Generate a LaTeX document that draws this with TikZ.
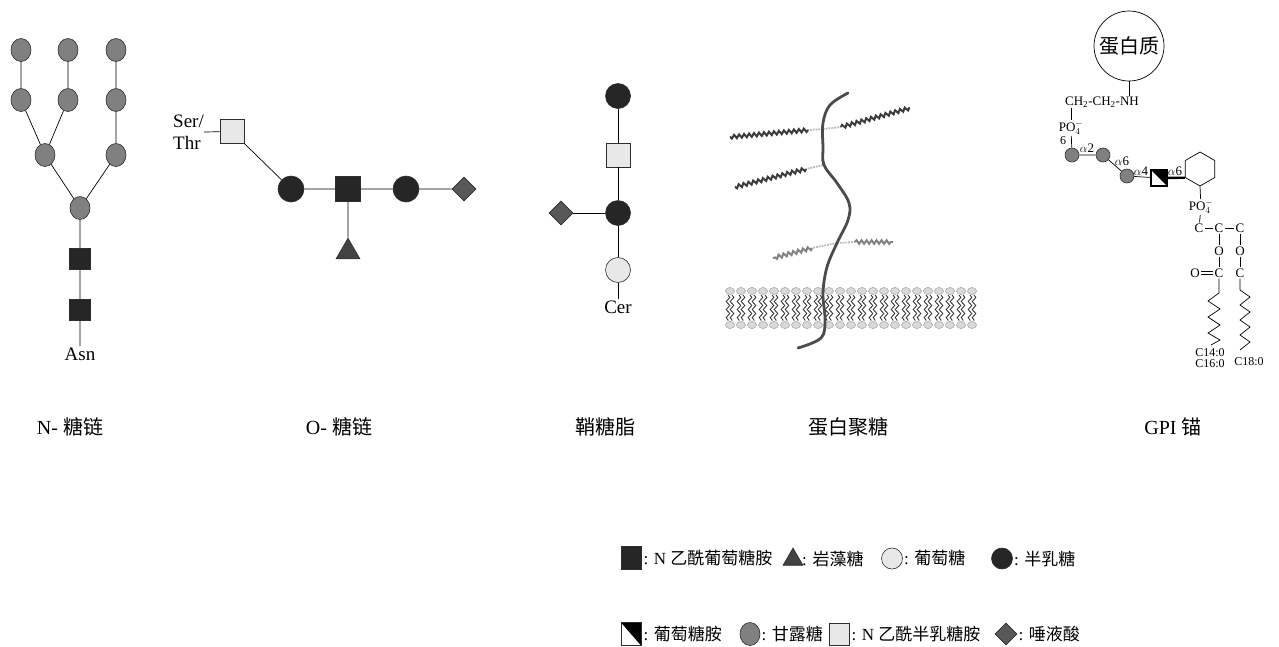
\documentclass[tikz,border=0pt]{standalone}
\usepackage{fontspec}
\setmainfont{Liberation Serif}
\newfontfamily\cjk{Noto Sans CJK SC}
\usepackage{tikz}
\usetikzlibrary{shapes.geometric, positioning, calc, decorations.pathmorphing}
\usepackage{xcolor}
\definecolor{hexnac}{RGB}{38, 38, 38}
\definecolor{mangray}{RGB}{128, 128, 128}
\definecolor{lightsug}{RGB}{232, 232, 232}
\definecolor{fucgray}{RGB}{66, 66, 66}
\definecolor{siagray}{RGB}{88, 88, 88}
\definecolor{edgegray}{RGB}{45, 45, 45}
\definecolor{coregray}{RGB}{75, 75, 75}
\definecolor{gagdark}{RGB}{60, 60, 60}
\definecolor{gaglight}{RGB}{130, 130, 130}
\newcommand{\zh}[1]{{\cjk #1}}

\begin{document}
\begin{tikzpicture}[
    x=1pt, y=-1pt,
    sugar/.style={draw=edgegray, line width=0.6pt, inner sep=0pt},
    glcnac/.style={sugar, rectangle, fill=hexnac, minimum size=24pt},
    galnac/.style={sugar, rectangle, fill=lightsug, minimum size=24pt},
    gal/.style={sugar, circle, fill=hexnac, minimum size=25pt},
    glc/.style={sugar, circle, fill=lightsug, minimum size=25pt},
    man/.style={sugar, ellipse, fill=mangray, minimum width=20pt, minimum height=23pt},
    sia/.style={sugar, diamond, fill=siagray, minimum size=24pt},
    fuc/.style={sugar, regular polygon, regular polygon sides=3, fill=fucgray, minimum size=27.7pt},
    glcn/.style={sugar, rectangle, fill=white,
        path picture={\fill[black] (path picture bounding box.north west) -- (path picture bounding box.north east) -- (path picture bounding box.south east) -- cycle;}},
    link/.style={draw=black, line width=0.7pt},
    tag/.style={font=\fontsize{19}{22}\selectfont, inner sep=1pt},
    atom/.style={font=\fontsize{13}{14}\selectfont, inner sep=1pt},
    caption/.style={font=\fontsize{20}{24}\selectfont},
    key/.style={font=\fontsize{17}{20}\selectfont, inner sep=0pt},
    head/.style={ellipse, draw=gray!75, fill=gray!30, line width=0.5pt, minimum width=9pt, minimum height=7pt, inner sep=0pt},
    tail/.style={draw=black!85, line width=0.8pt, decorate, decoration={snake, segment length=8pt, amplitude=1.8pt}},
    gag/.style={draw=gagdark, line width=2pt, decorate, decoration={snake, segment length=5pt, amplitude=1.8pt}},
    beads/.style={draw=gray!55, line width=1.8pt, densely dotted}
]
    \useasboundingbox (0,0) rectangle (1279,646);

    % N-糖链
    \node[man] (n1) at (21,50) {};
    \node[man] (n2) at (68,50) {};
    \node[man] (n3) at (116,50) {};
    \node[man] (n4) at (21,100) {};
    \node[man] (n5) at (68,100) {};
    \node[man] (n6) at (116,100) {};
    \node[man] (n7) at (45,155) {};
    \node[man] (n8) at (116,155) {};
    \node[man] (n9) at (80,208) {};
    \node[glcnac, minimum size=21pt] (n10) at (80,259) {};
    \node[glcnac, minimum size=21pt] (n11) at (80,310) {};
    \node[tag] (asn) at (80,354) {Asn};
    \path[link] (n1) -- (n4) (n2) -- (n5) (n3) -- (n6) -- (n8) -- (n9)
        (n4) -- (n7) -- (n9) (n5) -- (n7) (n9) -- (n10) -- (n11) -- (asn);

    % O-糖链
    \node[galnac] (o1) at (232,131.5) {};
    \node[tag, align=left, anchor=east, inner sep=0pt] (ser) at (204,132) {Ser/\\Thr};
    \node[gal, minimum size=26pt] (o2) at (291,189) {};
    \node[glcnac, minimum size=25pt] (o3) at (348,189) {};
    \node[gal, minimum size=26pt] (o4) at (406,189) {};
    \node[sia] (o5) at (464,189) {};
    \node[fuc] (o6) at (348,252) {};
    \path[link] (ser.east) -- (o1) -- (o2) -- (o3) -- (o4) -- (o5) (o3) -- (o6);

    % 鞘糖脂
    \node[gal] (g1) at (618,96) {};
    \node[galnac] (g2) at (618,155) {};
    \node[gal] (g3) at (618,213) {};
    \node[sia] (g4) at (561,213) {};
    \node[glc] (g5) at (618,270) {};
    \node[tag] (cer) at (618,307) {Cer};
    \path[link] (g1) -- (g2) -- (g3) -- (g5) -- (cer) (g4) -- (g3);

    % 蛋白聚糖: 膜
    \foreach \i in {0,...,22}{
        \pgfmathsetmacro{\hx}{730+11*\i}
        \draw[tail] (\hx-2,295) -- (\hx-2,321);
        \draw[tail] (\hx+2,295) -- (\hx+2,321);
        \node[head] (ht\i) at (\hx,291) {};
        \node[head] (hb\i) at (\hx,325) {};
    }
    % 糖胺聚糖链
    \coordinate (a1) at (823,129);
    \coordinate (a2) at (823,165);
    \coordinate (a3) at (837,243);
    \draw[beads] (a1) -- (808,130);
    \draw[gag] (808,130) -- (730,137);
    \draw[beads] (a1) -- (841,127);
    \draw[gag] (841,127) -- (910,108);
    \draw[beads] (a2) -- (806,169);
    \draw[gag] (806,169) -- (735,187);
    \draw[beads] (a3) -- (812,248);
    \draw[gag, draw=gaglight] (812,248) -- (773,258);
    \draw[beads] (a3) -- (855,242);
    \draw[gag, draw=gaglight] (855,242) -- (893,242);
    % 核心蛋白
    \draw[draw=coregray, line width=2.8pt, line cap=round] plot[smooth, tension=0.6] coordinates {
        (848,93) (830,105) (823,123) (823,147) (824,165) (837,183) (849,203) (848,220)
        (837,243) (827,267) (823,293) (825,320) (821,338) (798,348)};

    % GPI 锚
    \node[circle, draw=black, line width=0.7pt, minimum size=70pt, inner sep=0pt,
        font=\cjk\fontsize{20}{22}\selectfont] (prot) at (1129,46) {蛋白质};
    \node[atom] (ea) at (1102,102) {CH\textsubscript{2}-CH\textsubscript{2}-NH};
    \node[atom] (p1) at (1071,128) {PO$_4^-$};
    \node[atom, font=\fontsize{12}{13}\selectfont] (l6) at (1063,141) {6};
    \node[sugar, circle, fill=mangray, minimum size=14pt] (m1) at (1072,155) {};
    \node[sugar, circle, fill=mangray, minimum size=14pt] (m2) at (1103,155) {};
    \node[sugar, circle, fill=mangray, minimum size=14pt] (m3) at (1127,176) {};
    \node[glcn, draw=black, line width=1.4pt, minimum size=16pt] (glcn) at (1159,178) {};
    \node[regular polygon, regular polygon sides=6, shape border rotate=30, draw=black,
        line width=0.7pt, minimum size=34pt, inner sep=0pt] (ring) at (1200,169) {};
    \node[atom] (al2) at (1087,148) {$\alpha$2};
    \node[atom] (al6) at (1122,161) {$\alpha$6};
    \node[atom] (al4) at (1141,171) {$\alpha$4};
    \node[atom] (al6b) at (1175,171) {$\alpha$6};
    \node[atom] (p2) at (1201,207) {PO$_4^-$};
    \node[atom] (c1) at (1199,228) {C};
    \node[atom] (c2) at (1219,228) {C};
    \node[atom] (c3) at (1240,228) {C};
    \node[atom] (ox1) at (1219,251) {O};
    \node[atom] (ox2) at (1240,251) {O};
    \node[atom] (ox3) at (1195,273) {O};
    \node[atom] (c4) at (1219,273) {C};
    \node[atom] (c5) at (1240,273) {C};
    \node[atom, inner sep=0pt, align=center, font=\fontsize{12}{11}\selectfont] (f1) at (1210,358) {C14:0\\C16:0};
    \node[atom, inner sep=0pt, font=\fontsize{12}{13}\selectfont] (f3) at (1249,362) {C18:0};

    \draw[link] (prot) -- (prot |- ea.north);
    \draw[link] (p1 |- ea.south) -- (p1);
    \draw[link] (p1) -- (m1) -- (m2) -- (m3) -- (glcn);
    \draw[black, line width=2.4pt] (glcn) -- (ring.210);
    \draw[link] (ring.270) -- (p2) -- (c1);
    \draw[link] (c1) -- (c2) -- (c3);
    \draw[link] (c2) -- (ox1) -- (c4);
    \draw[link] (c3) -- (ox2) -- (c5);
    \draw[link, double, double distance=2pt] (ox3) -- (c4);
    \draw[link] (c4) -- (1219,293) -- (1208,301) -- (1220,309) -- (1208,317)
        -- (1220,325) -- (1208,333) -- (1220,340) -- (1211,345);
    \draw[link] (c5) -- (1240,290) -- (1250,297) -- (1240,305) -- (1250,312)
        -- (1240,320) -- (1250,327) -- (1240,335) -- (1250,342) -- (1240,350);

    % 名称
    \node[caption] (capn) at (70,427) {N- \zh{糖链}};
    \node[caption] (capo) at (339,427) {O- \zh{糖链}};
    \node[caption] (capg) at (605,427) {\zh{鞘糖脂}};
    \node[caption] (capp) at (848,427) {\zh{蛋白聚糖}};
    \node[caption] (capa) at (1173,427) {GPI \zh{锚}};

    % 图例
    \node[glcnac, minimum width=20pt, minimum height=23pt] (k1) at (631,558) {};
    \node[key, right=2pt of k1] (t1) {: N \zh{乙酰葡萄糖胺}};
    \node[fuc, minimum size=23pt] (k2) at (793,559.5) {};
    \node[key, right=2pt of k2] (t2) {: \zh{岩藻糖}};
    \node[glc, minimum width=20pt, minimum height=21pt] (k3) at (892,558.5) {};
    \node[key, right=1pt of k3] (t3) {: \zh{葡萄糖}};
    \node[gal, minimum width=20pt, minimum height=21pt] (k4) at (1002,558.5) {};
    \node[key, right=1pt of k4] (t4) {: \zh{半乳糖}};

    \node[glcn, minimum width=20pt, minimum height=23pt] (k5) at (631,634) {};
    \node[key, right=2pt of k5] (t5) {: \zh{葡萄糖胺}};
    \node[man] (k6) at (750,634) {};
    \node[key, right=1pt of k6] (t6) {: \zh{甘露糖}};
    \node[galnac, minimum width=20pt, minimum height=22pt] (k7) at (839,634) {};
    \node[key, right=2pt of k7] (t7) {: N \zh{乙酰半乳糖胺}};
    \node[sia, minimum size=22pt] (k8) at (1006,634) {};
    \node[key, right=1pt of k8] (t8) {: \zh{唾液酸}};
\end{tikzpicture}
\end{document}
